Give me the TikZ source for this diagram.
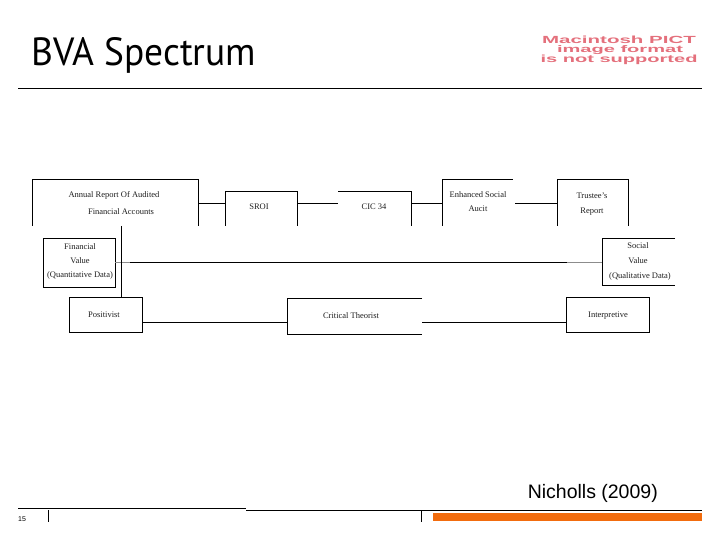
\documentclass[tikz,border=0pt]{standalone}
\usepackage{fontspec}
\setmainfont{Liberation Serif}
\setsansfont{Liberation Sans}
\newfontfamily\titlefont{PT Sans}
\usetikzlibrary{calc}
\definecolor{pict}{RGB}{228,112,124}
\definecolor{barorange}{RGB}{242,108,14}
\definecolor{txt}{RGB}{30,30,30}
\tikzset{
  box/.style={draw=none,inner sep=0pt,outer sep=0pt,anchor=north west},
  lbl/.style={font=\fontsize{8.5}{9}\selectfont,text=txt,inner sep=0pt},
  ln/.style={line width=0.9pt,black},
  lng/.style={line width=0.9pt,black!45},
}
\begin{document}
\begin{tikzpicture}[x=1pt,y=-1pt]
\useasboundingbox (0,0) rectangle (720,540);
% title
\node[anchor=base west,inner sep=0pt] (title) at (31,66) {\resizebox{225pt}{28pt}{\titlefont BVA Spectrum}};
\node[anchor=base,inner sep=0pt,text=pict] (pict1) at (619,43.5) {\resizebox{154pt}{7.5pt}{\sffamily\bfseries Macintosh PICT}};
\node[anchor=base,inner sep=0pt,text=pict] (pict2) at (620,52.5) {\resizebox{126pt}{7pt}{\sffamily\bfseries image format}};
\node[anchor=base,inner sep=0pt,text=pict] (pict3) at (619,62.5) {\resizebox{157pt}{7.5pt}{\sffamily\bfseries is not supported}};
\coordinate (rl) at (18,88);
\coordinate (rr) at (702,88);
\draw[line width=0.8pt] (rl) -- (rr);

% top row boxes
\node[box,minimum width=166pt,minimum height=47pt] (annual) at (32,179) {};
\node[box,minimum width=72pt,minimum height=35pt] (sroi) at (225,191) {};
\node[box,minimum width=73pt,minimum height=35pt] (cic) at (338,191) {};
\node[box,minimum width=71pt,minimum height=47pt] (enh) at (442,179) {};
\node[box,minimum width=71pt,minimum height=47pt] (trust) at (557,179) {};
\draw[ln] (annual.south west) -- (annual.north west) -- (annual.north east) -- (annual.south east);
\draw[ln] (sroi.south west) -- (sroi.north west) -- (sroi.north east) -- (sroi.south east);
\draw[ln] (cic.north west) -- (cic.north east) -- (cic.south east);
\draw[ln] (enh.south west) -- (enh.north west) -- (enh.north east);
\draw[ln] (trust.south west) -- (trust.north west) -- (trust.north east) -- (trust.south east);
\node[lbl] (annualt1) at (114,195) {Annual Report Of Audited};
\node[lbl] (annualt2) at (121,212) {Financial Accounts};
\node[lbl] (sroit) at (259,207) {SROI};
\node[lbl] (cict) at (374,207) {CIC 34};
\node[lbl] (enht1) at (478,195) {Enhanced Social};
\node[lbl] (enht2) at (478,209) {Aucit};
\node[lbl] (trustt1) at (592,196) {Trustee's};
\node[lbl] (trustt2) at (592,212) {Report};
\coordinate (y1) at (0,203);
\coordinate (enhr) at (515,203);
\draw[ln] (annual.east |- y1) -- (sroi.west |- y1);
\draw[ln] (sroi.east |- y1) -- (cic.west |- y1);
\draw[ln] (cic.east |- y1) -- (enh.west |- y1);
\draw[ln] (enhr) -- (trust.west |- y1);

% middle row
\node[box,minimum width=72pt,minimum height=49pt] (fin) at (43,238) {};
\draw[ln] (fin.south west) rectangle (fin.north east);
\node[box,minimum width=73pt,minimum height=47pt] (soc) at (602,238) {};
\draw[ln] (soc.north east) -- (soc.north west) -- (soc.south west) -- (soc.south east);
\node[lbl] (fint1) at (80,247) {Financial};
\node[lbl] (fint2) at (80,261) {Value};
\node[lbl] (fint3) at (80,275) {(Quantitative Data)};
\node[lbl] (soct1) at (638,246) {Social};
\node[lbl] (soct2) at (638,261) {Value};
\node[lbl] (soct3) at (640,276) {(Qualitative Data)};
\coordinate (y2) at (0,262);
\coordinate (m1) at (130,262);
\coordinate (m2) at (567,262);
\draw[lng] (fin.east |- y2) -- (m1);
\draw[ln] (m1) -- (m2);
\draw[lng] (m2) -- (soc.west |- y2);

% bottom row
\node[box,minimum width=73pt,minimum height=35pt] (pos) at (69,297) {};
\draw[ln] (pos.south west) rectangle (pos.north east);
\node[box,minimum width=135pt,minimum height=36pt] (crit) at (287,298) {};
\draw[ln] (crit.north east) -- (crit.north west) -- (crit.south west) -- (crit.south east);
\node[box,minimum width=83pt,minimum height=35pt] (interp) at (566,297) {};
\draw[ln] (interp.south west) rectangle (interp.north east);
\node[lbl,anchor=base] (post) at (104,317) {Positivist};
\node[lbl,anchor=base] (critt) at (351,318) {Critical Theorist};
\node[lbl,anchor=base] (interpt) at (608,317) {Interpretive};
\coordinate (y3) at (0,322);
\draw[ln] (pos.east |- y3) -- (crit.west |- y3);
\draw[ln] (crit.east |- y3) -- (interp.west |- y3);

% vertical link
\coordinate (vx) at (121,0);
\draw[ln] (vx |- annual.south) -- (vx |- pos.north);

% footer
\node[anchor=base east,inner sep=0pt,font=\sffamily\fontsize{19.5}{22}\selectfont] (cite) at (658,498) {Nicholls (2009)};
\coordinate (f1) at (18,508);
\coordinate (f2) at (246,508);
\coordinate (f3) at (246,510);
\coordinate (f4) at (702,510);
\draw[line width=0.8pt] (f1) -- (f2);
\draw[line width=0.8pt] (f3) -- (f4);
\node[anchor=base west,inner sep=0pt,font=\sffamily\fontsize{7}{8}\selectfont] (pg) at (18,521) {15};
\coordinate (t1) at (48,510);
\coordinate (t2) at (48,522);
\coordinate (t3) at (421,510);
\coordinate (t4) at (421,522);
\draw[line width=0.8pt] (t1) -- (t2);
\draw[line width=0.8pt] (t3) -- (t4);
\fill[barorange] (433,513) rectangle (702,521);
\end{tikzpicture}
\end{document}
